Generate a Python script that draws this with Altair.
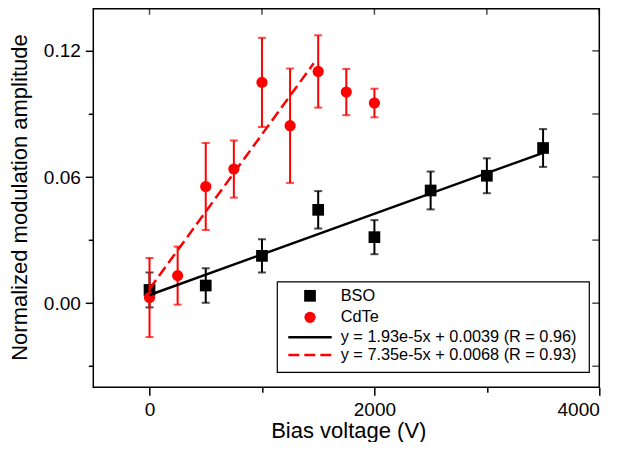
import altair as alt
import pandas as pd

# ---- data ----
bso_x = [0, 500, 1000, 1500, 2000, 2500, 3000, 3500]
bso_y = [0.0063, 0.0084, 0.0225, 0.0444, 0.0314, 0.0536, 0.0606, 0.0738]
bso_err = [0.0083, 0.0082, 0.0079, 0.0089, 0.0081, 0.0090, 0.0083, 0.0090]

cdte_x = [0, 250, 500, 750, 1000, 1250, 1500, 1750, 2000]
cdte_y = [0.0027, 0.0131, 0.0555, 0.0638, 0.1050, 0.0844, 0.1102, 0.1004, 0.0952]
cdte_err = [0.0188, 0.0138, 0.0207, 0.0136, 0.0212, 0.0272, 0.0172, 0.0110, 0.0068]

bso_fit_x = [0, 3500]
bso_fit_y = [0.0039, 0.0715]
cdte_fit_x = [0, 1460]
cdte_fit_y = [0.0068, 0.1141]

x_ticks = [0, 1000, 2000, 3000, 4000]
y_ticks = [-0.03, 0.0, 0.03, 0.06, 0.09, 0.12]

legend_labels = ["BSO", "CdTe",
                 "y = 1.93e-5x + 0.0039 (R = 0.96)",
                 "y = 7.35e-5x + 0.0068 (R = 0.93)"]

W, H = 506, 378.5
FONT = "Liberation Sans"
RED = "#ff0000"

xs = alt.Scale(domain=[-500, 4000], nice=False, zero=False)
ys = alt.Scale(domain=[-0.04, 0.14], nice=False, zero=False)

x_axis = alt.Axis(
    values=x_ticks,
    labelExpr="datum.value % 2000 == 0 ? format(datum.value, 'd') : ''",
    tickSize={"condition": {"test": "datum.value % 2000 == 0", "value": 8}, "value": 5},
    title="Bias voltage (V)",
    titleBaseline="alphabetic", titleY=50, titleX=W / 2 + 2,
)
y_axis = alt.Axis(
    values=y_ticks,
    labelExpr="round(datum.value * 100) % 6 == 0 ? format(datum.value, '.2f') : ''",
    tickSize={"condition": {"test": "round(datum.value * 100) % 6 == 0", "value": 8}, "value": 5},
    title="Normalized modulation amplitude",
    titleBaseline="alphabetic", titleX=-67, titleY=H / 2 - 1,
)

bso = pd.DataFrame({"x": bso_x, "y": bso_y, "err": bso_err})
bso["lo"] = bso["y"] - bso["err"]
bso["hi"] = bso["y"] + bso["err"]
cdte = pd.DataFrame({"x": cdte_x, "y": cdte_y, "err": cdte_err})
cdte["lo"] = cdte["y"] - cdte["err"]
cdte["hi"] = cdte["y"] + cdte["err"]


def errbars(df, color):
    base = alt.Chart(df)
    rule = base.mark_rule(color=color, strokeWidth=2).encode(
        x=alt.X("x:Q", scale=xs, axis=x_axis),
        y=alt.Y("lo:Q", scale=ys, axis=y_axis),
        y2="hi:Q",
    )
    cap_lo = base.mark_tick(color=color, orient="horizontal", size=8, thickness=2).encode(
        x=alt.X("x:Q", scale=xs), y=alt.Y("lo:Q", scale=ys))
    cap_hi = base.mark_tick(color=color, orient="horizontal", size=8, thickness=2).encode(
        x=alt.X("x:Q", scale=xs), y=alt.Y("hi:Q", scale=ys))
    return [rule, cap_lo, cap_hi]


bso_pts = alt.Chart(bso).mark_point(shape="square", filled=True, size=137, color="black", opacity=1).encode(
    x=alt.X("x:Q", scale=xs), y=alt.Y("y:Q", scale=ys))
cdte_pts = alt.Chart(cdte).mark_point(shape="circle", filled=True, size=125, color=RED, opacity=1).encode(
    x=alt.X("x:Q", scale=xs), y=alt.Y("y:Q", scale=ys))

bso_fit = alt.Chart(pd.DataFrame({"x": bso_fit_x, "y": bso_fit_y})).mark_line(
    color="black", strokeWidth=2.5).encode(x=alt.X("x:Q", scale=xs), y=alt.Y("y:Q", scale=ys))
cdte_fit = alt.Chart(pd.DataFrame({"x": cdte_fit_x, "y": cdte_fit_y})).mark_line(
    color=RED, strokeWidth=2.5, strokeDash=[11, 5]).encode(x=alt.X("x:Q", scale=xs), y=alt.Y("y:Q", scale=ys))

# inward ticks on top and right edges
top_ticks = alt.Chart(pd.DataFrame({"x": x_ticks})).mark_tick(
    orient="vertical", size=6, thickness=1.5, color="black").encode(
    x=alt.X("x:Q", scale=xs), y=alt.value(3))
right_ticks = alt.Chart(pd.DataFrame({"y": y_ticks})).mark_tick(
    orient="horizontal", size=7, thickness=1.5, color="black").encode(
    y=alt.Y("y:Q", scale=ys), x=alt.value(W - 3.5))

# legend
one = pd.DataFrame({"a": [0]})
leg_box = alt.Chart(one).mark_rect(fill="white", stroke="black", strokeWidth=1.2).encode(
    x=alt.value(184), x2=alt.value(496), y=alt.value(273), y2=alt.value(363.5))
row_y = [287, 308.5, 328.5, 346.2]
leg_sq = alt.Chart(one).mark_point(shape="square", filled=True, size=137, color="black", opacity=1).encode(
    x=alt.value(216.7), y=alt.value(row_y[0]))
leg_ci = alt.Chart(one).mark_point(shape="circle", filled=True, size=125, color=RED, opacity=1).encode(
    x=alt.value(216.7), y=alt.value(row_y[1]))
leg_l1 = alt.Chart(one).mark_rule(color="black", strokeWidth=2.5).encode(
    x=alt.value(195), x2=alt.value(238.4), y=alt.value(row_y[2]))
leg_l2 = alt.Chart(one).mark_rule(color=RED, strokeWidth=2.5, strokeDash=[11, 5]).encode(
    x=alt.value(195), x2=alt.value(238.4), y=alt.value(row_y[3]))
leg_texts = [
    alt.Chart(one).mark_text(align="left", baseline="middle", fontSize=16.3, font=FONT, color="black").encode(
        x=alt.value(247.4), y=alt.value(ry), text=alt.value(t))
    for ry, t in zip(row_y, legend_labels)
]

layers = (errbars(bso, "black") + [bso_pts] + errbars(cdte, RED) + [cdte_pts, bso_fit, cdte_fit,
          top_ticks, right_ticks, leg_box, leg_sq, leg_ci, leg_l1, leg_l2] + leg_texts)

chart = alt.layer(*layers).properties(
    width=W, height=H,
    autosize=alt.AutoSizeParams(type="none"),
    padding={"left": 85.3, "top": 0.8, "right": 20.7, "bottom": 54.7},
).configure_view(
    stroke="black", strokeWidth=1.5
).configure_axis(
    grid=False, domain=False, tickColor="black", tickWidth=1.5,
    labelColor="black", labelFont=FONT, labelFontSize=19, labelPadding=5,
    titleFont=FONT, titleFontSize=22, titleFontWeight="normal", titleColor="black",
).configure_axisX(labelPadding=5)

chart.save("out.html", embed_options={"renderer": "svg", "actions": False})
